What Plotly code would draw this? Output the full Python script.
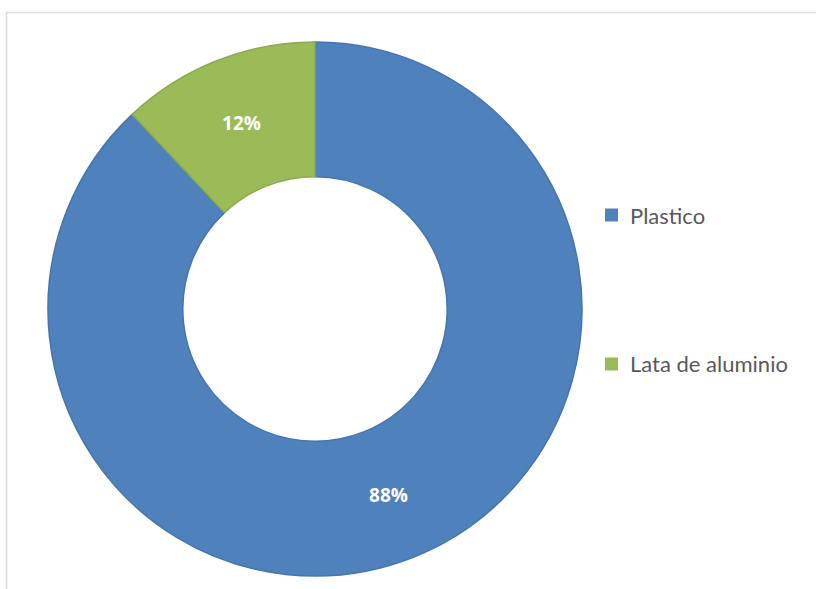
import plotly.graph_objects as go

labels = ["Plastico", "Lata de aluminio"]
values = [88, 12]
colors = ["#4f81bd", "#9bbb59"]
edge_colors = ["#4675ae", "#8aab4c"]

W, H = 816, 589
cx, cy, R = 315, 309, 267

def px_x(x):
    return x / W

def px_y(y):
    return 1 - y / H

fig = go.Figure()
fig.add_trace(go.Pie(
    labels=labels,
    values=values,
    hole=0.495,
    sort=False,
    direction="clockwise",
    rotation=0,
    marker=dict(colors=colors, line=dict(color=edge_colors, width=1.5)),
    textinfo="percent",
    texttemplate="%{percent:.0%}",
    textposition="inside",
    insidetextorientation="horizontal",
    textfont=dict(family="Open Sans", size=19, color="white", weight="bold"),
    showlegend=False,
    domain=dict(x=[px_x(cx - R), px_x(cx + R)], y=[px_y(cy + R), px_y(cy - R)]),
    hoverinfo="label+percent",
))

shapes = [
    dict(type="line", xref="paper", yref="paper", x0=px_x(6.5), x1=1.0, y0=px_y(12.5), y1=px_y(12.5),
         line=dict(color="#d9d9d9", width=1.5)),
    dict(type="line", xref="paper", yref="paper", x0=px_x(6.5), x1=px_x(6.5), y0=px_y(12.5), y1=0,
         line=dict(color="#d9d9d9", width=1.5)),
]
annotations = []
legend_y = [215, 364]
for lab, col, ly in zip(labels, colors, legend_y):
    shapes.append(dict(type="rect", xref="paper", yref="paper",
                       x0=px_x(605), x1=px_x(618), y0=px_y(ly + 6.5), y1=px_y(ly - 6.5),
                       fillcolor=col, line=dict(color=col, width=0)))
    annotations.append(dict(text=lab, xref="paper", yref="paper", x=px_x(628), y=px_y(ly),
                            xanchor="left", yanchor="middle", showarrow=False,
                            font=dict(family="Lato", size=22, color="#595959")))

fig.update_layout(
    width=W, height=H,
    margin=dict(l=0, r=0, t=0, b=0),
    paper_bgcolor="white",
    plot_bgcolor="white",
    shapes=shapes,
    annotations=annotations,
)

fig.write_html("out.html")
